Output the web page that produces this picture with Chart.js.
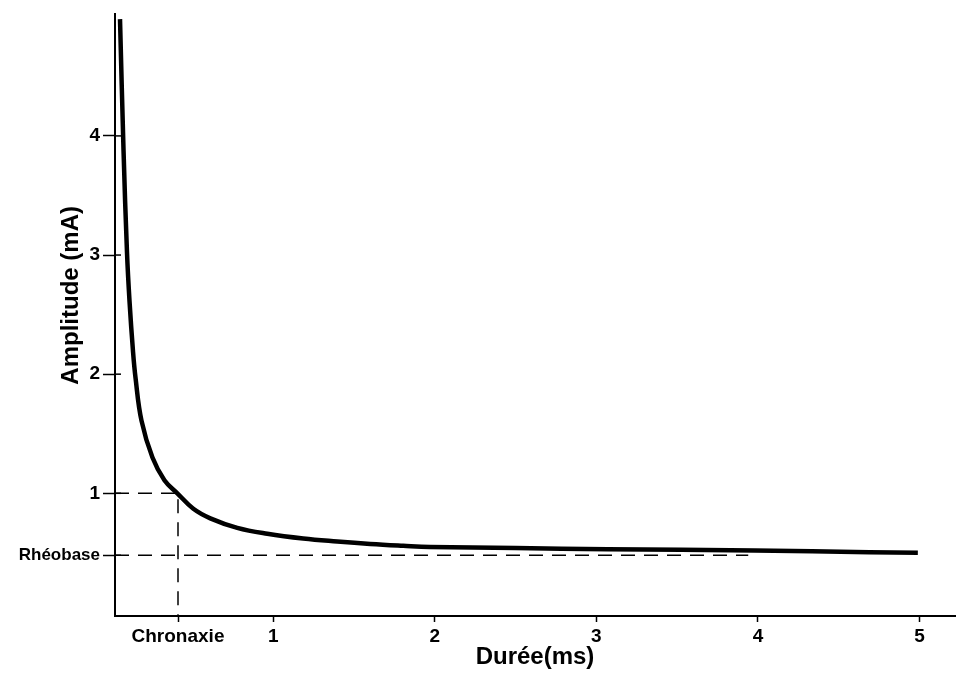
<!DOCTYPE html>
<html>
<head>
<meta charset="utf-8">
<title>Courbe intensité-durée</title>
<script src="https://cdn.jsdelivr.net/npm/chart.js@4.4.1/dist/chart.umd.min.js"></script>
<style>
  html, body { margin: 0; padding: 0; background: #fff; }
  #wrap { width: 956px; height: 673px; position: relative; }
</style>
</head>
<body>
<div id="wrap"><canvas id="sdCurve"></canvas></div>
<script>
// Courbe intensité-durée
const durations = [0.051, 0.073, 0.094, 0.110, 0.131, 0.147, 0.184, 0.252,
  0.326, 0.406, 0.505, 0.610, 0.777, 0.963, 1.185, 1.396, 1.600, 1.804, 1.970, 2.50,
  3.07, 3.98, 4.69, 4.99];
const amplitudes = [4.98, 3.87, 3.03, 2.61, 2.20, 1.97, 1.61, 1.30,
  1.11, 1.00, 0.87, 0.79, 0.71, 0.66, 0.62, 0.595, 0.575, 0.56, 0.55, 0.54,
  0.53, 0.52, 0.505, 0.50];

const rheobase = 0.48;
const chronaxie = 0.41;
const rheobaseLineEnd = 3.94;

const xTicks = [chronaxie, 1, 2, 3, 4, 5];
const xTickLabels = ['Chronaxie', '1', '2', '3', '4', '5'];
const yTicks = [rheobase, 1, 2, 3, 4];
const yTickLabels = ['Rhéobase', '1', '2', '3', '4'];

const xMin = 0.02, xMax = 5.22;
const yMin = -0.03, yMax = 5.02;

const FONT = "'Liberation Sans', Arial, sans-serif";

// small tick stubs crossing into the plot, like the original
const crossTicks = {
  id: 'crossTicks',
  afterDraw(chart) {
    const { ctx, scales: { x, y } } = chart;
    ctx.save();
    ctx.strokeStyle = '#000';
    ctx.lineWidth = 1.5;
    yTicks.forEach(v => {
      const py = y.getPixelForValue(v);
      ctx.beginPath();
      ctx.moveTo(x.left, py);
      ctx.lineTo(x.left + 6, py);
      ctx.stroke();
    });
    ctx.restore();
  }
};

// y title drawn by hand, it sits a bit above the middle in the original
const yTitle = {
  id: 'yTitle',
  afterDraw(chart) {
    const { ctx, chartArea } = chart;
    ctx.save();
    ctx.translate(71, chartArea.top + (chartArea.bottom - chartArea.top) * 0.467);
    ctx.rotate(-Math.PI / 2);
    ctx.font = 'bold 24px ' + FONT;
    ctx.fillStyle = '#000';
    ctx.textAlign = 'center';
    ctx.textBaseline = 'middle';
    ctx.fillText('Amplitude (mA)', 0, 0);
    ctx.restore();
  }
};

const ctx = document.getElementById('sdCurve');
new Chart(ctx, {
  type: 'line',
  data: {
    datasets: [{
      label: 'Courbe',
      data: durations.map((d, i) => ({ x: d, y: amplitudes[i] })),
      borderColor: '#000',
      borderWidth: 4.5,
      pointRadius: 0,
      tension: 0.4,
      fill: false
    }, {
      label: 'Rhéobase',
      data: [{ x: xMin, y: rheobase }, { x: rheobaseLineEnd, y: rheobase }],
      borderColor: '#000',
      borderWidth: 1.5,
      borderDash: [14, 9],
      pointRadius: 0,
      fill: false
    }, {
      label: 'Chronaxie',
      data: [{ x: xMin, y: 1 }, { x: chronaxie, y: 1 }, { x: chronaxie, y: yMin }],
      borderColor: '#000',
      borderWidth: 1.5,
      borderDash: [14, 9],
      pointRadius: 0,
      fill: false
    }]
  },
  options: {
    responsive: true,
    maintainAspectRatio: false,
    animation: false,
    layout: { padding: { top: 12, right: 1, left: 0, bottom: 0 } },
    plugins: {
      legend: { display: false },
      tooltip: { enabled: false }
    },
    scales: {
      x: {
        type: 'linear',
        min: xMin,
        max: xMax,
        afterBuildTicks: s => { s.ticks = xTicks.map(v => ({ value: v })); },
        afterFit: s => { s.height = 57; },
        ticks: {
          autoSkip: false,
          maxRotation: 0,
          padding: 3,
          color: '#000',
          callback: (v, i) => xTickLabels[i],
          font: { family: FONT, size: 19, weight: 'bold' }
        },
        grid: { drawOnChartArea: false, color: '#000', tickLength: 6, tickWidth: 1.5 },
        border: { color: '#000', width: 2 },
        title: {
          display: true,
          text: 'Durée(ms)',
          color: '#000',
          font: { family: FONT, size: 24, weight: 'bold' },
          padding: { top: 0, bottom: 1 }
        }
      },
      y: {
        type: 'linear',
        min: yMin,
        max: yMax,
        afterBuildTicks: s => { s.ticks = yTicks.map(v => ({ value: v })); },
        afterFit: s => { s.width = 115; },
        ticks: {
          autoSkip: false,
          padding: 3,
          color: '#000',
          callback: (v, i) => yTickLabels[i],
          font: c => (c.index === 0
            ? { family: FONT, size: 17, weight: 'bold' }
            : { family: FONT, size: 19, weight: 'bold' })
        },
        grid: { drawOnChartArea: false, color: '#000', tickLength: 12, tickWidth: 1.5 },
        border: { color: '#000', width: 2 }
      }
    }
  },
  plugins: [crossTicks, yTitle]
});
</script>
</body>
</html>
